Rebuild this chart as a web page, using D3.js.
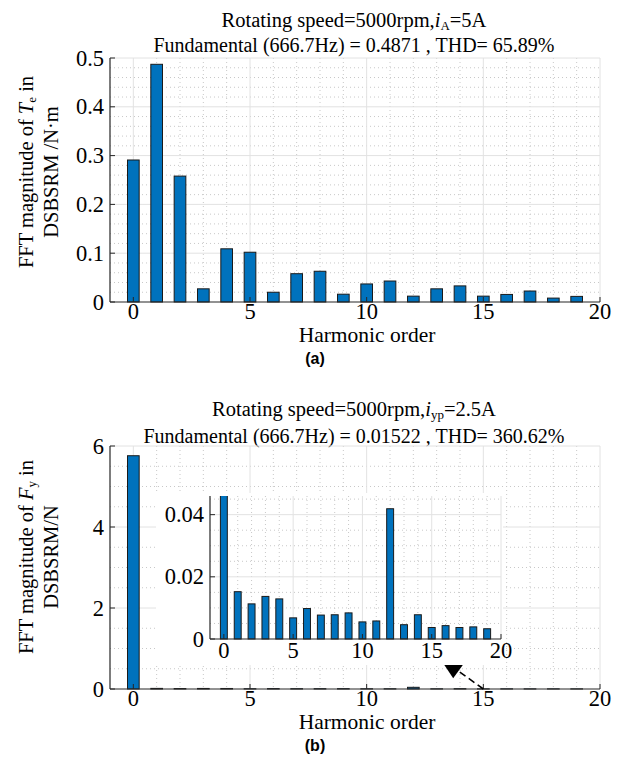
<!DOCTYPE html>
<html>
<head>
<meta charset="utf-8">
<script src="https://cdn.jsdelivr.net/npm/d3@7"></script>
<style>
  html, body { margin: 0; padding: 0; background: #fff; }
  text { font-family: "Liberation Serif", "Times New Roman", serif; }
</style>
</head>
<body>
<script>
// Harmonic orders shown on every x axis
const orders = [0, 1, 2, 3, 4, 5, 6, 7, 8, 9, 10, 11, 12, 13, 14, 15, 16, 17, 18, 19];

// FFT magnitude of electromagnetic torque Te (N·m), iA = 5 A
const torqueFFT = [0.291, 0.4871, 0.258, 0.027, 0.109, 0.102, 0.020, 0.058, 0.063, 0.016,
                   0.037, 0.043, 0.012, 0.027, 0.033, 0.012, 0.0155, 0.0225, 0.008, 0.0115];

// FFT magnitude of radial force Fy (N), iyp = 2.5 A
const forceFFT = [5.76, 0.01522, 0.0113, 0.0137, 0.0129, 0.0068, 0.0098, 0.0077, 0.0078, 0.0084,
                  0.0055, 0.0058, 0.0419, 0.0046, 0.0078, 0.0037, 0.0043, 0.0037, 0.0039, 0.0033];

// Tick labels
const orderTicks = [0, 5, 10, 15, 20];
const torqueTicks = [0, 0.1, 0.2, 0.3, 0.4, 0.5];
const forceTicks = [0, 2, 4, 6];
const insetTicks = [0, 0.02, 0.04];

const W = 630, H = 759;
const BAR = "#0072BD";
const SERIF = "'Liberation Serif', 'Times New Roman', serif";
const svg = d3.select("body").append("svg").attr("width", W).attr("height", H)
  .attr("font-family", SERIF);

// Draws one bar-chart axes with MATLAB-like major/minor grids
function drawAxes(g, o) {
  const x = d3.scaleLinear().domain([-1, 20]).range([o.left, o.right]);
  const y = d3.scaleLinear().domain([0, o.ymax]).range([o.bottom, o.top]);

  if (o.background) {
    g.append("rect").attr("x", o.background[0]).attr("y", o.background[1])
      .attr("width", o.background[2]).attr("height", o.background[3]).attr("fill", "#fff");
  }

  const grid = g.append("g");
  // minor grid (dotted)
  const xMinor = d3.range(0, 21).filter(v => v % 5 !== 0);
  const yMinor = d3.range(0, Math.round(o.ymax / o.yMinor) + 1).map(i => i * o.yMinor)
    .filter(v => v <= o.ymax + 1e-9 && !o.yTicks.some(t => Math.abs(t - v) < 1e-9));
  grid.selectAll(".xm").data(xMinor).join("line")
    .attr("x1", d => x(d)).attr("x2", d => x(d)).attr("y1", o.top).attr("y2", o.bottom)
    .attr("stroke", "#c8c8c8").attr("stroke-width", 1).attr("stroke-dasharray", "1,3");
  grid.selectAll(".ym").data(yMinor).join("line")
    .attr("x1", o.left).attr("x2", o.right).attr("y1", d => y(d)).attr("y2", d => y(d))
    .attr("stroke", "#c8c8c8").attr("stroke-width", 1).attr("stroke-dasharray", "1,3");
  // major grid (solid, light)
  grid.selectAll(".xM").data(orderTicks).join("line")
    .attr("x1", d => x(d)).attr("x2", d => x(d)).attr("y1", o.top).attr("y2", o.bottom)
    .attr("stroke", "#e2e2e2").attr("stroke-width", 1);
  grid.selectAll(".yM").data(o.yTicks.filter(t => t > 0)).join("line")
    .attr("x1", o.left).attr("x2", o.right).attr("y1", d => y(d)).attr("y2", d => y(d))
    .attr("stroke", "#e2e2e2").attr("stroke-width", 1);

  // bars, clipped to the axes box
  const clipId = "clip" + o.id;
  g.append("clipPath").attr("id", clipId).append("rect")
    .attr("x", o.left).attr("y", o.top).attr("width", o.right - o.left).attr("height", o.bottom - o.top + 2);
  const bw = x(0.25) - x(-0.25);
  g.append("g").attr("clip-path", `url(#${clipId})`)
    .selectAll("rect").data(o.values).join("rect")
    .attr("x", (d, i) => x(orders[i]) - bw / 2)
    .attr("y", d => y(d))
    .attr("width", bw)
    .attr("height", d => Math.max(0, o.bottom - y(d)))
    .attr("fill", BAR).attr("stroke", "#1a1a1a").attr("stroke-width", 1);

  // axes (left + bottom only)
  const axisColor = "#262626";
  g.append("line").attr("x1", o.left).attr("x2", o.left).attr("y1", o.top).attr("y2", o.bottom)
    .attr("stroke", axisColor).attr("stroke-width", 1.2);
  g.append("line").attr("x1", o.left).attr("x2", o.right).attr("y1", o.bottom).attr("y2", o.bottom)
    .attr("stroke", axisColor).attr("stroke-width", 1.2);
  // inward tick marks
  g.selectAll(".yt").data(o.yTicks).join("line")
    .attr("x1", o.left).attr("x2", o.left + 5).attr("y1", d => y(d)).attr("y2", d => y(d))
    .attr("stroke", axisColor);
  g.selectAll(".xt").data(orderTicks).join("line")
    .attr("x1", d => x(d)).attr("x2", d => x(d)).attr("y1", o.bottom).attr("y2", o.bottom - 5)
    .attr("stroke", axisColor);

  // tick labels
  g.selectAll(".yl").data(o.yTicks).join("text")
    .attr("x", o.left - 6).attr("y", d => y(d) + 7.5)
    .attr("text-anchor", "end").attr("font-size", o.fs)
    .text(d => d);
  g.selectAll(".xl").data(orderTicks).join("text")
    .attr("x", d => x(d)).attr("y", o.bottom + o.xlDy)
    .attr("text-anchor", "middle").attr("font-size", o.fs)
    .text(d => d);
  return { x, y };
}

function title(g, cx, y1, y2, line1, line2) {
  const t1 = g.append("text").attr("x", cx).attr("y", y1).attr("text-anchor", "middle").attr("font-size", 20.5);
  line1(t1);
  g.append("text").attr("x", cx).attr("y", y2).attr("text-anchor", "middle").attr("font-size", 20).text(line2);
}

function yLabel(g, cy, line1, line2) {
  const t1 = g.append("text").attr("transform", `translate(33,${cy}) rotate(-90)`)
    .attr("text-anchor", "middle").attr("font-size", 20.5);
  line1(t1);
  g.append("text").attr("transform", `translate(58,${cy}) rotate(-90)`)
    .attr("text-anchor", "middle").attr("font-size", 20.5).text(line2);
}

function panelTag(g, y, s) {
  g.append("text").attr("x", 315).attr("y", y).attr("text-anchor", "middle")
    .attr("font-size", 16).attr("font-weight", "bold")
    .style("font-family", "'Liberation Sans', Arial, sans-serif")
    .text(s);
}

// ---------- (a) torque spectrum ----------
const ga = svg.append("g");
title(ga, 354, 27, 52,
  t => {
    t.append("tspan").text("Rotating speed=5000rpm,");
    t.append("tspan").attr("font-style", "italic").text("i");
    t.append("tspan").attr("font-size", 13).attr("dy", 3).text("A");
    t.append("tspan").attr("dy", -3).text("=5A");
  },
  "Fundamental (666.7Hz) = 0.4871 , THD= 65.89%");
drawAxes(ga, { id: "a", left: 110, right: 600, top: 58, bottom: 302, ymax: 0.5,
  yTicks: torqueTicks, yMinor: 0.02, values: torqueFFT, fs: 22.5, xlDy: 17 });
yLabel(ga, 172,
  t => {
    t.append("tspan").text("FFT magnitude of ");
    t.append("tspan").attr("font-style", "italic").text("T");
    t.append("tspan").attr("font-size", 13).attr("dy", 3).text("e");
    t.append("tspan").attr("dy", -3).text(" in");
  },
  "DSBSRM /N·m");
ga.append("text").attr("x", 367).attr("y", 342).attr("text-anchor", "middle").attr("font-size", 21.5).text("Harmonic order");
panelTag(ga, 364, "(a)");

// ---------- (b) radial force spectrum ----------
const gb = svg.append("g");
title(gb, 354, 416, 443,
  t => {
    t.append("tspan").text("Rotating speed=5000rpm,");
    t.append("tspan").attr("font-style", "italic").text("i");
    t.append("tspan").attr("font-size", 13).attr("dy", 3).text("yp");
    t.append("tspan").attr("dy", -3).text("=2.5A");
  },
  "Fundamental (666.7Hz) = 0.01522 , THD= 360.62%");
const mainB = drawAxes(gb, { id: "b", left: 110, right: 600, top: 446, bottom: 689, ymax: 6,
  yTicks: forceTicks, yMinor: 0.5, values: forceFFT, fs: 22.5, xlDy: 17 });
yLabel(gb, 557,
  t => {
    t.append("tspan").text("FFT magnitude of ");
    t.append("tspan").attr("font-style", "italic").text("F");
    t.append("tspan").attr("font-size", 13).attr("dy", 3).text("y");
    t.append("tspan").attr("dy", -3).text(" in");
  },
  "DSBSRM/N");
gb.append("text").attr("x", 367).attr("y", 729).attr("text-anchor", "middle").attr("font-size", 21.5).text("Harmonic order");
panelTag(gb, 751, "(b)");

// zoomed inset of the small harmonics
const gi = svg.append("g");
drawAxes(gi, { id: "i", left: 210, right: 501, top: 496, bottom: 639, ymax: 0.046,
  yTicks: insetTicks, yMinor: 0.005, values: forceFFT, fs: 22.5, xlDy: 19,
  background: [156, 493, 347, 172] });

// dashed arrow from harmonic 15 of the main axes to the inset
const tail = [mainB.x(15), mainB.y(0)];
const tip = [439, 657];
const dx = tip[0] - tail[0], dy = tip[1] - tail[1];
const len = Math.hypot(dx, dy), ux = dx / len, uy = dy / len;
const headLen = 24, headHalf = 9;
const base = [tip[0] - ux * headLen, tip[1] - uy * headLen];
gb.append("line").attr("x1", tail[0]).attr("y1", tail[1]).attr("x2", base[0]).attr("y2", base[1])
  .attr("stroke", "#000").attr("stroke-width", 1.6).attr("stroke-dasharray", "7,4");
gb.append("path")
  .attr("d", d3.line()([tip, [base[0] - uy * headHalf, base[1] + ux * headHalf],
                        [base[0] + uy * headHalf, base[1] - ux * headHalf]]) + "Z")
  .attr("fill", "#000");
</script>
</body>
</html>
